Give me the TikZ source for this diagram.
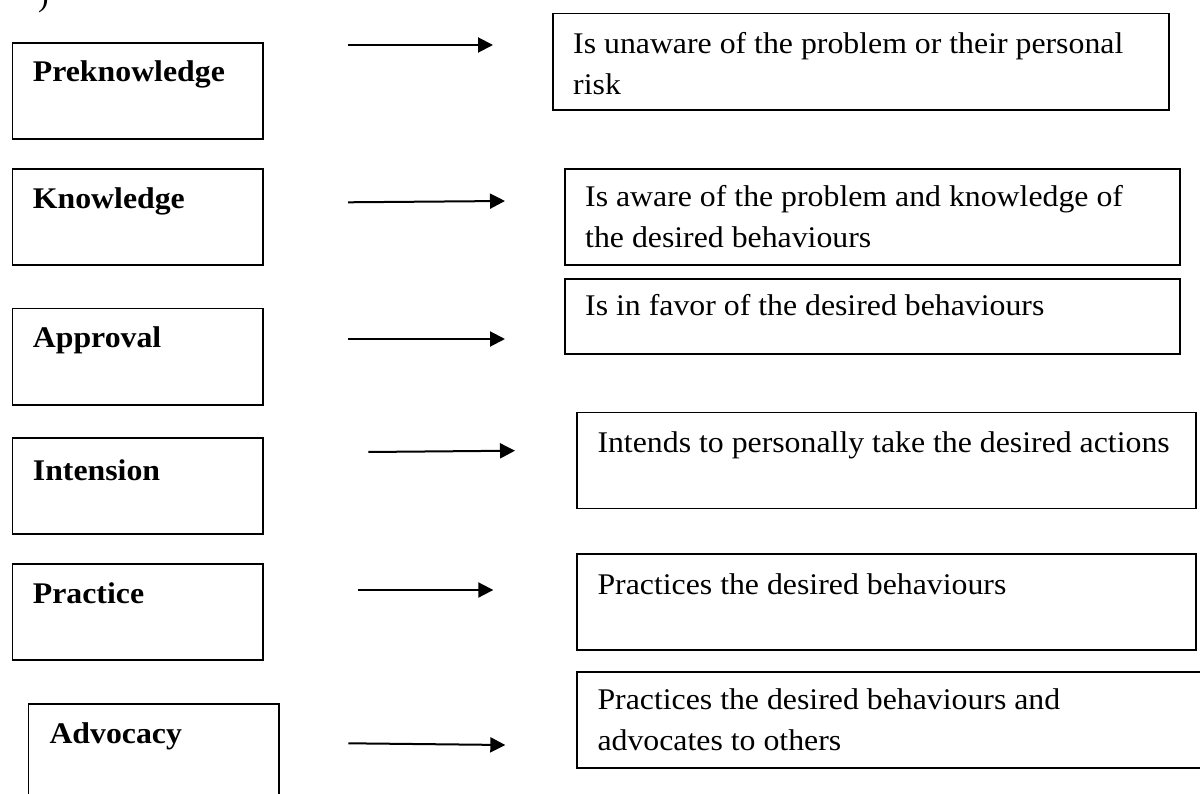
\documentclass[tikz,border=0pt]{standalone}
\usepackage{fontspec}
\setmainfont{Liberation Serif}[FakeStretch=1.06]
\usetikzlibrary{arrows.meta}
\begin{document}
\begin{tikzpicture}[x=1pt,y=-1pt,
  lbox/.style={draw, line width=1.6pt, minimum width=250.6pt, minimum height=96pt, anchor=north west, inner sep=0pt},
  rbox/.style={draw, line width=1.6pt, minimum height=96pt, anchor=north west, inner sep=0pt},
  ltext/.style={font=\bfseries\fontsize{30}{41}\selectfont, anchor=base west, inner sep=0pt},
  rtext/.style={font=\fontsize{30}{41}\selectfont, anchor=base west, inner sep=0pt, align=left},
  arr/.style={line width=2pt, -{Triangle[length=15pt,width=15pt]}}]
\useasboundingbox (0,0) rectangle (1200,794);
\clip (0,0) rectangle (1200,794);
\fill[white] (0,0) rectangle (1200,794);

% partial glyph at the top left
\node[rtext] (paren) at (38,7) {)};

% left column
\node[lbox] (L1) at (11.7,42.3) {};
\node[lbox] (L2) at (11.7,168.3) {};
\node[lbox, minimum height=96.3pt] (L3) at (11.7,307.7) {};
\node[lbox] (L4) at (11.7,437.3) {};
\node[lbox] (L5) at (11.7,563.3) {};
\node[lbox, minimum height=110pt] (L6) at (27.7,703) {};

\node[ltext] (T1) at (32.7,82) {Preknowledge};
\node[ltext] (T2) at (32.7,209) {Knowledge};
\node[ltext] (T3) at (32.7,348) {Approval};
\node[ltext] (T4) at (32.7,480) {Intension};
\node[ltext] (T5) at (32.7,603.3) {Practice};
\node[ltext] (T6) at (49.3,743.3) {Advocacy};

% right column
\node[rbox, minimum width=616pt, minimum height=96.3pt] (R1) at (552,12.7) {};
\node[rbox, minimum width=615pt] (R2) at (564,168) {};
\node[rbox, minimum width=615pt, minimum height=75pt, line width=2pt] (R3) at (564,277.7) {};
\node[rbox, minimum width=619pt] (R4) at (576,411.7) {};
\node[rbox, minimum width=619pt] (R5) at (576,553.3) {};
\node[rbox, minimum width=640pt, line width=2pt] (R6) at (576,670.7) {};

% multi-line texts: base anchor is the baseline of the last line
\node[rtext] (S1) at (573,95) {Is unaware of the problem or their personal\\risk};
\node[rtext] (S2) at (585,248) {Is aware of the problem and knowledge of\\the desired behaviours};
\node[rtext] (S3) at (585,316) {Is in favor of the desired behaviours};
\node[rtext] (S4) at (597.3,452.3) {Intends to personally take the desired actions};
\node[rtext] (S5) at (597.3,594) {Practices the desired behaviours};
\node[rtext] (S6) at (597.3,750.7) {Practices the desired behaviours and\\advocates to others};

% arrows
\coordinate (a1s) at (348,45);    \coordinate (a1e) at (493,45);
\coordinate (a2s) at (348,202.3); \coordinate (a2e) at (505,201);
\coordinate (a3s) at (348,339);   \coordinate (a3e) at (505,339);
\coordinate (a4s) at (368.3,452); \coordinate (a4e) at (515,450.7);
\coordinate (a5s) at (358.3,590); \coordinate (a5e) at (493.3,590);
\coordinate (a6s) at (348.3,743.3); \coordinate (a6e) at (505.3,745);
\draw[arr] (a1s) -- (a1e);
\draw[arr] (a2s) -- (a2e);
\draw[arr] (a3s) -- (a3e);
\draw[arr] (a4s) -- (a4e);
\draw[arr] (a5s) -- (a5e);
\draw[arr] (a6s) -- (a6e);
\end{tikzpicture}
\end{document}
